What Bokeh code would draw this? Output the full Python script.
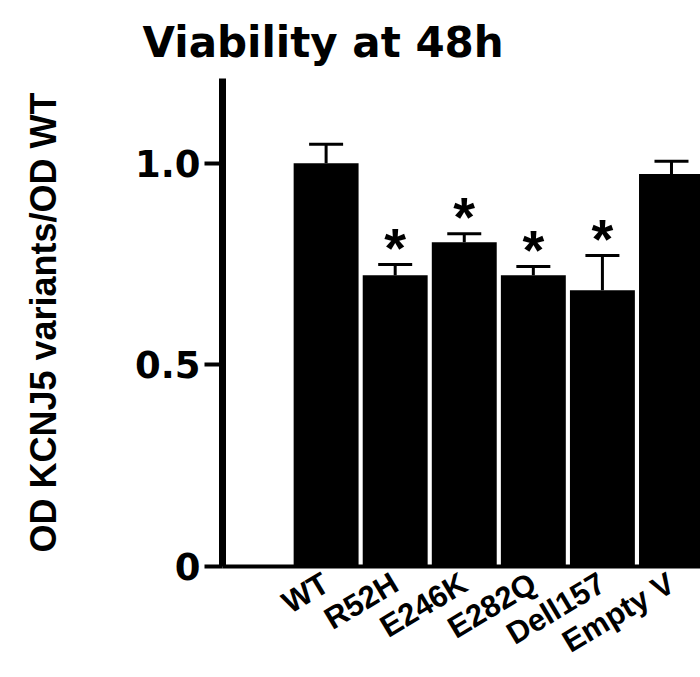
from bokeh.plotting import figure
from bokeh.models import Range1d, FixedTicker, Whisker, TeeHead, ColumnDataSource
from bokeh.core.properties import value
from bokeh.embed import file_html
from bokeh.resources import INLINE

categories = ["WT", "R52H", "E246K", "E282Q", "Dell157", "Empty V"]
means = [1.0, 0.722, 0.804, 0.722, 0.685, 0.973]
errors = [0.047, 0.027, 0.021, 0.022, 0.086, 0.032]
significant = [False, True, True, True, True, False]
y_ticks = [0, 0.5, 1.0]
y_tick_labels = ["0", "0.5", "1.0"]

xs = list(range(1, len(categories) + 1))
uppers = [m + e for m, e in zip(means, errors)]
src = ColumnDataSource(dict(x=xs, top=means, upper=uppers))
star_src = ColumnDataSource(dict(
    x=[x for x, s in zip(xs, significant) if s],
    y=[u for u, s in zip(uppers, significant) if s],
    t=["*" for s in significant if s],
))

p = figure(width=700, height=677, output_backend="svg", toolbar_location=None,
           x_range=Range1d(-0.5, 6.42), y_range=Range1d(0, 1.21),
           min_border_left=222, min_border_right=0, min_border_top=78,
           min_border_bottom=109)
p.outline_line_color = None
p.grid.visible = False
p.background_fill_color = "white"

p.title.text = "Viability at 48h"
p.title.text_font = "DejaVu Sans"
p.title.text_font_style = "bold"
p.title.text_font_size = "42px"
p.title.text_color = "black"
p.title.align = "left"
p.title.offset = -80
p.title.standoff = 24

p.vbar(x="x", top="top", width=0.94, bottom=0, source=src,
       fill_color="black", line_color=None)

w = Whisker(base="x", upper="upper", lower="top", source=src,
            line_color="black", line_width=3,
            upper_head=TeeHead(size=34, line_color="black", line_width=3),
            lower_head=None)
p.add_layout(w)

p.text(x="x", y="y", text="t", source=star_src, text_align="center",
       text_baseline="middle", y_offset=-17,
       text_font=value("Liberation Sans"), text_font_style="bold",
       text_font_size="56px", text_color="black")

# y axis
ya = p.yaxis[0]
ya.ticker = FixedTicker(ticks=y_ticks)
ya.major_label_overrides = {t: l for t, l in zip(y_ticks, y_tick_labels)}
ya.axis_line_width = 7
ya.major_tick_line_width = 4
ya.major_tick_out = 18
ya.major_tick_in = 0
ya.minor_tick_out = 0
ya.minor_tick_in = 0
ya.major_label_standoff = 4
ya.major_label_text_font = "DejaVu Sans"
ya.major_label_text_font_style = "bold"
ya.major_label_text_font_size = "37px"
ya.major_label_text_color = "black"
ya.axis_label = "OD KCNJ5 variants/OD WT"
ya.axis_label_text_font = "Liberation Sans"
ya.axis_label_text_font_style = "bold"
ya.axis_label_text_font_size = "36px"
ya.axis_label_text_color = "black"
ya.axis_label_standoff = 68

# x axis
xa = p.xaxis[0]
xa.ticker = FixedTicker(ticks=xs)
xa.major_label_overrides = {x: c for x, c in zip(xs, categories)}
xa.axis_line_width = 4
xa.major_tick_out = 0
xa.major_tick_in = 0
xa.minor_tick_out = 0
xa.minor_tick_in = 0
xa.major_label_orientation = 0.54
xa.major_label_standoff = 14
xa.major_label_text_font = "Liberation Sans"
xa.major_label_text_font_style = "bold"
xa.major_label_text_font_size = "31px"
xa.major_label_text_color = "black"

open("out.html", "w").write(file_html(p, INLINE))
